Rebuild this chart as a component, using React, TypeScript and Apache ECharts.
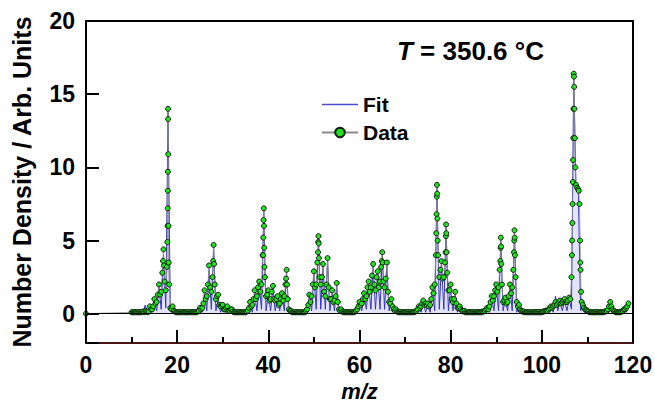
import React, { useEffect, useRef } from 'react';
import * as echarts from 'echarts';

// Measured data: one row per integer m/z starting at 10, samples at +0, +0.25, +0.5, +0.75
const dataStartMz = 10;
const dataStep = 0.25;
const dataRows: number[][] = [
  [0.1, 0.1, 0.1, 0.1], // 10
  [0.1, 0.1, 0.1, 0.1],
  [0.1, 0.1, 0.15, 0.1],
  [0.2, 0.15, 0.1, 0.15],
  [0.5, 0.3, 0.3, 0.5],
  [1.0, 0.7, 0.8, 1.3], // 15
  [2.0, 1.3, 1.5, 2.8],
  [4.4, 2.2, 1.6, 3.2],
  [14.0, 2.0, 0.4, 0.3],
  [0.5, 0.2, 0.15, 0.1],
  [0.1, 0.1, 0.1, 0.1], // 20
  [0.1, 0.1, 0.1, 0.1],
  [0.1, 0.1, 0.1, 0.1],
  [0.1, 0.1, 0.1, 0.1],
  [0.1, 0.1, 0.15, 0.2],
  [0.4, 0.3, 0.4, 0.7], // 25
  [1.6, 1.0, 1.2, 2.0],
  [3.3, 1.8, 1.5, 2.5],
  [4.7, 2.0, 1.0, 1.2],
  [1.3, 0.6, 0.5, 0.6],
  [0.6, 0.3, 0.3, 0.4], // 30
  [0.5, 0.2, 0.2, 0.3],
  [0.3, 0.15, 0.1, 0.1],
  [0.1, 0.1, 0.1, 0.1],
  [0.1, 0.1, 0.1, 0.1],
  [0.1, 0.15, 0.2, 0.4], // 35
  [0.8, 0.5, 0.6, 1.0],
  [1.6, 1.0, 1.2, 1.8],
  [2.2, 1.5, 2.0, 4.0],
  [7.2, 2.5, 1.2, 1.3],
  [1.6, 0.9, 1.0, 1.5], // 40
  [1.9, 1.0, 0.9, 1.0],
  [1.2, 0.6, 0.7, 1.0],
  [1.4, 0.9, 1.2, 2.0],
  [3.0, 1.0, 0.3, 0.2],
  [0.2, 0.1, 0.1, 0.1], // 45
  [0.1, 0.1, 0.1, 0.1],
  [0.1, 0.1, 0.1, 0.1],
  [0.1, 0.2, 0.3, 0.6],
  [1.3, 0.8, 1.2, 2.0],
  [2.9, 1.8, 2.0, 3.5], // 50
  [5.3, 2.5, 2.0, 2.5],
  [3.4, 1.5, 1.2, 2.0],
  [3.8, 1.8, 1.0, 1.0],
  [1.6, 0.8, 0.9, 1.2],
  [2.1, 0.8, 0.3, 0.2], // 55
  [0.3, 0.15, 0.1, 0.1],
  [0.1, 0.1, 0.1, 0.1],
  [0.1, 0.1, 0.1, 0.1],
  [0.15, 0.2, 0.3, 0.5],
  [0.8, 0.6, 0.7, 1.0], // 60
  [1.4, 1.0, 1.2, 1.8],
  [2.2, 1.5, 1.8, 2.6],
  [3.4, 2.0, 1.6, 2.5],
  [2.9, 1.8, 2.2, 3.2],
  [4.2, 2.2, 1.8, 2.4], // 65
  [3.5, 1.5, 0.8, 0.7],
  [1.0, 0.5, 0.3, 0.2],
  [0.3, 0.15, 0.1, 0.1],
  [0.1, 0.1, 0.1, 0.1],
  [0.1, 0.1, 0.1, 0.1], // 70
  [0.1, 0.1, 0.1, 0.1],
  [0.1, 0.15, 0.2, 0.3],
  [0.5, 0.4, 0.5, 0.7],
  [0.9, 0.6, 0.7, 0.6],
  [0.7, 0.5, 0.6, 1.0], // 75
  [1.8, 1.4, 2.0, 4.0],
  [8.8, 4.0, 2.5, 3.0],
  [3.6, 2.4, 2.5, 3.5],
  [6.1, 2.8, 1.6, 1.6],
  [2.0, 1.0, 0.8, 1.0], // 80
  [1.5, 0.7, 0.4, 0.4],
  [0.5, 0.3, 0.2, 0.15],
  [0.2, 0.1, 0.1, 0.1],
  [0.1, 0.1, 0.1, 0.1],
  [0.1, 0.1, 0.1, 0.1], // 85
  [0.1, 0.1, 0.1, 0.1],
  [0.15, 0.15, 0.2, 0.3],
  [0.4, 0.3, 0.5, 0.8],
  [1.2, 0.9, 1.2, 1.6],
  [2.0, 1.5, 1.8, 3.0], // 90
  [5.2, 2.0, 0.8, 0.9],
  [1.1, 0.7, 0.8, 1.2],
  [2.0, 1.4, 1.8, 3.0],
  [5.7, 2.5, 0.8, 0.5],
  [0.6, 0.3, 0.2, 0.15], // 95
  [0.15, 0.1, 0.1, 0.1],
  [0.1, 0.1, 0.1, 0.1],
  [0.1, 0.1, 0.1, 0.1],
  [0.1, 0.1, 0.1, 0.1],
  [0.1, 0.15, 0.15, 0.2], // 100
  [0.2, 0.2, 0.3, 0.4],
  [0.5, 0.4, 0.5, 0.6],
  [0.8, 0.6, 0.7, 0.8],
  [0.9, 0.7, 0.8, 0.9],
  [1.0, 0.8, 0.8, 0.9], // 105
  [1.1, 1.0, 2.5, 7.5],
  [16.4, 12.0, 8.8, 8.6],
  [8.5, 7.5, 3.0, 0.8],
  [0.6, 0.4, 0.3, 0.25],
  [0.2, 0.15, 0.1, 0.1], // 110
  [0.1, 0.1, 0.1, 0.1],
  [0.1, 0.1, 0.1, 0.1],
  [0.1, 0.1, 0.1, 0.15],
  [0.15, 0.2, 0.3, 0.5],
  [0.8, 0.5, 0.3, 0.2], // 115
  [0.15, 0.1, 0.1, 0.1],
  [0.1, 0.1, 0.15, 0.2],
  [0.3, 0.3, 0.4, 0.5],
  [0.7], // 119
];

// Extra measured points on the steep flanks of the large peaks [m/z, value]
const dataPeakFlanks: [number, number][] = [
  [16.9, 3.6], [17.1, 3.3],
  [17.85, 4.9], [17.9, 6.0], [17.93, 7.2], [17.95, 8.4], [17.97, 9.7], [18.02, 13.3], [18.05, 10.9], [18.1, 6.0], [18.15, 3.5],
  [27.9, 3.6], [28.1, 3.4],
  [38.85, 4.0], [38.9, 5.2], [38.95, 6.4], [39.05, 6.0], [39.1, 4.5], [39.15, 3.2],
  [43.9, 2.4], [44.1, 2.0],
  [50.9, 4.2], [50.95, 4.9], [51.05, 4.8], [51.1, 3.8],
  [64.9, 3.6], [65.1, 3.5],
  [76.85, 5.5], [76.9, 6.8], [76.95, 8.0], [77.05, 8.2], [77.1, 6.5], [77.15, 5.0],
  [78.9, 4.2], [78.95, 5.3], [79.05, 5.5], [79.1, 4.2],
  [90.9, 3.6], [90.95, 4.5], [91.05, 4.6], [91.1, 3.4],
  [93.9, 4.2], [93.95, 5.0], [94.05, 5.2], [94.1, 4.0],
  [106.6, 4.0], [106.65, 5.0], [106.7, 6.2], [106.8, 9.0], [106.85, 10.5], [106.9, 12.0], [106.95, 14.0],
  [107.05, 16.2], [107.1, 15.5], [107.15, 14.0], [107.35, 10.0],
  [108.1, 8.4], [108.4, 5.0], [108.45, 3.5], [108.6, 1.5],
];

const dataOrigin: [number, number][] = [[0, 0]];

// Fit: one row per integer m/z starting at 10: [value at m, value at m + 0.5]
const fitStartMz = 10;
const fitRows: number[][] = [
  [0.05, 0.05], [0.05, 0.05], [0.05, 0.05], [0.6, 0.05], [0.4, 0.1], // 10-14
  [0.8, 0.2], [1.8, 0.3], [4.0, 0.4], [13.8, 0.2], [0.4, 0.05], // 15-19
  [0.05, 0.05], [0.05, 0.05], [0.05, 0.05], [0.05, 0.05], [0.05, 0.05], // 20-24
  [0.3, 0.1], [1.4, 0.2], [3.0, 0.3], [4.6, 0.2], [1.0, 0.1], // 25-29
  [0.4, 0.1], [0.3, 0.05], [0.2, 0.05], [0.05, 0.05], [0.05, 0.05], // 30-34
  [0.1, 0.05], [0.6, 0.1], [1.4, 0.2], [2.0, 0.3], [7.0, 0.2], // 35-39
  [1.4, 0.2], [1.7, 0.2], [1.0, 0.2], [1.2, 0.2], [2.8, 0.1], // 40-44
  [0.2, 0.05], [0.05, 0.05], [0.05, 0.05], [0.2, 0.1], [1.2, 0.2], // 45-49
  [2.7, 0.3], [5.1, 0.3], [3.2, 0.3], [3.6, 0.2], [1.4, 0.2], // 50-54
  [1.9, 0.1], [0.2, 0.05], [0.05, 0.05], [0.05, 0.05], [0.2, 0.1], // 55-59
  [0.7, 0.2], [1.3, 0.3], [2.0, 0.3], [3.2, 0.3], [2.7, 0.3], // 60-64
  [4.0, 0.3], [3.3, 0.2], [0.9, 0.1], [0.2, 0.05], [0.05, 0.05], // 65-69
  [0.05, 0.05], [0.05, 0.05], [0.2, 0.05], [0.5, 0.1], [0.8, 0.1], // 70-74
  [0.6, 0.1], [1.6, 0.2], [8.6, 0.3], [3.4, 0.3], [5.9, 0.2], // 75-79
  [1.8, 0.2], [1.3, 0.1], [0.4, 0.05], [0.05, 0.05], [0.05, 0.05], // 80-84
  [0.05, 0.05], [0.05, 0.05], [0.05, 0.05], [0.4, 0.1], [1.1, 0.2], // 85-89
  [1.9, 0.2], [5.0, 0.2], [1.0, 0.2], [1.9, 0.2], [5.5, 0.1], // 90-94
  [0.5, 0.05], [0.05, 0.05], [0.05, 0.05], [0.05, 0.05], [0.05, 0.05], // 95-99
  [0.05, 0.05], [0.05, 0.05], [0.5, 0.1], [1.2, 0.2], [0.8, 0.2], // 100-104
  [0.9, 0.2], [1.0, 0.3], [16.2, 8.5], [8.6, 0.2], [0.5, 0.05], // 105-109
  [0.2, 0.05], [0.05, 0.05], [0.05, 0.05], [0.05, 0.05], [0.05, 0.05], // 110-114
  [0.7, 0.05], [0.05, 0.05], [0.05, 0.05], [0.3, 0.1], [0.6], // 115-119
];

const xMin = 0;
const xMax = 120;
const xInterval = 20;
const yMin = -2;
const yMax = 20;

const titleItalic = 'T';
const titleRest = ' = 350.6 °C';
const xName = 'm/z';
const yName = 'Number Density / Arb. Units';
const seriesNames = ['Fit', 'Data'];

const FONT = "'Liberation Sans', Arial, Helvetica, sans-serif";

export default function App() {
  const ref = useRef<HTMLDivElement>(null);

  useEffect(() => {
    if (!ref.current) return;
    const chart = echarts.init(ref.current, null, { renderer: 'svg' });

    const dataPts: [number, number][] = [...dataOrigin];
    dataRows.forEach((row, i) => {
      row.forEach((v, j) => {
        dataPts.push([dataStartMz + i + j * dataStep, v]);
      });
    });
    dataPeakFlanks.forEach((p) => dataPts.push(p));
    dataPts.sort((a, b) => a[0] - b[0]);

    const fitPts: [number, number][] = [];
    fitRows.forEach((row, i) => {
      row.forEach((v, j) => {
        fitPts.push([fitStartMz + i + j * 0.5, v]);
      });
    });

    const tickLine = { color: '#000', width: 2 };

    const option: any = {
      animation: false,
      backgroundColor: '#ffffff',
      textStyle: { fontFamily: FONT },
      title: {
        text: `{i|${titleItalic}}{n|${titleRest}}`,
        left: 392,
        top: 33,
        textStyle: {
          rich: {
            i: { fontFamily: FONT, fontSize: 26, fontWeight: 'bold', fontStyle: 'italic', color: '#000' },
            n: { fontFamily: FONT, fontSize: 26, fontWeight: 'bold', color: '#000' },
          },
        },
      },
      legend: {
        orient: 'vertical',
        left: 316,
        top: 89,
        itemWidth: 36,
        itemHeight: 12,
        itemGap: 7,
        textStyle: { fontFamily: FONT, fontSize: 21, fontWeight: 'bold', color: '#000' },
        data: [
          { name: seriesNames[0], icon: 'path://M0,0h36v1.3h-36z' },
          { name: seriesNames[1] },
        ],
      },
      grid: {
        left: 86,
        right: 22,
        top: 21,
        bottom: 62,
        containLabel: false,
        outerBoundsMode: 'none',
      },
      xAxis: [
        {
          type: 'value',
          min: xMin,
          max: xMax,
          interval: xInterval,
          name: xName,
          nameLocation: 'middle',
          nameGap: 36,
          nameTextStyle: { fontFamily: FONT, fontSize: 22, fontWeight: 'bold', fontStyle: 'italic', color: '#000' },
          axisLine: { show: true, onZero: false, lineStyle: { color: '#4a1414', width: 2 } },
          axisTick: { show: true, inside: true, length: 13, lineStyle: tickLine },
          minorTick: { show: true, splitNumber: 2, length: 6, lineStyle: tickLine },
          axisLabel: { fontFamily: FONT, fontSize: 23, fontWeight: 'bold', color: '#000', margin: 10 },
          splitLine: { show: false },
          minorSplitLine: { show: false },
          z: 5,
        },
        {
          type: 'value',
          position: 'top',
          min: xMin,
          max: xMax,
          interval: xInterval,
          axisLine: { show: true, onZero: false, lineStyle: { color: '#000', width: 2 } },
          axisTick: { show: false },
          axisLabel: { show: false },
          splitLine: { show: false },
        },
      ],
      yAxis: [
        {
          type: 'value',
          min: yMin,
          max: yMax,
          name: yName,
          nameLocation: 'middle',
          nameGap: 52,
          nameTextStyle: { fontFamily: FONT, fontSize: 25, fontWeight: 'bold', color: '#000' },
          axisLine: { show: true, onZero: false, lineStyle: { color: '#000', width: 2 } },
          axisTick: { show: true, inside: true, length: 13, lineStyle: tickLine },
          axisLabel: {
            fontFamily: FONT,
            fontSize: 23,
            fontWeight: 'bold',
            color: '#000',
            margin: 11,
            formatter: (v: number) => (v < 0 ? '' : String(v)),
          },
          splitLine: { show: false },
          z: 5,
        },
        {
          type: 'value',
          position: 'right',
          min: yMin,
          max: yMax,
          axisLine: { show: true, onZero: false, lineStyle: { color: '#000', width: 2 } },
          axisTick: { show: false },
          axisLabel: { show: false },
          splitLine: { show: false },
        },
      ],
      series: [
        {
          name: 'Fit',
          type: 'line',
          data: fitPts,
          showSymbol: false,
          symbol: 'none',
          z: 2,
          lineStyle: { color: '#3535c8', width: 1 },
          itemStyle: { color: '#4a4ad0' },
          areaStyle: { color: 'rgba(110,110,225,0.28)', origin: 0 },
          markLine: {
            silent: true,
            symbol: 'none',
            label: { show: false },
            lineStyle: { color: '#000', width: 1.2, type: 'solid' },
            data: [{ yAxis: 0 }],
          },
        },
        {
          name: 'Data',
          type: 'line',
          data: dataPts,
          showAllSymbol: true,
          symbol: 'circle',
          symbolSize: 5,
          z: 3,
          lineStyle: { color: '#8a8a8a', width: 0.8 },
          itemStyle: { color: '#22e022', borderColor: '#0d200d', borderWidth: 1 },
        },
      ],
    };

    chart.setOption(option);
    return () => chart.dispose();
  }, []);

  return <div ref={ref} style={{ position: 'fixed', left: 0, top: 0, width: 655, height: 405 }} />;
}
